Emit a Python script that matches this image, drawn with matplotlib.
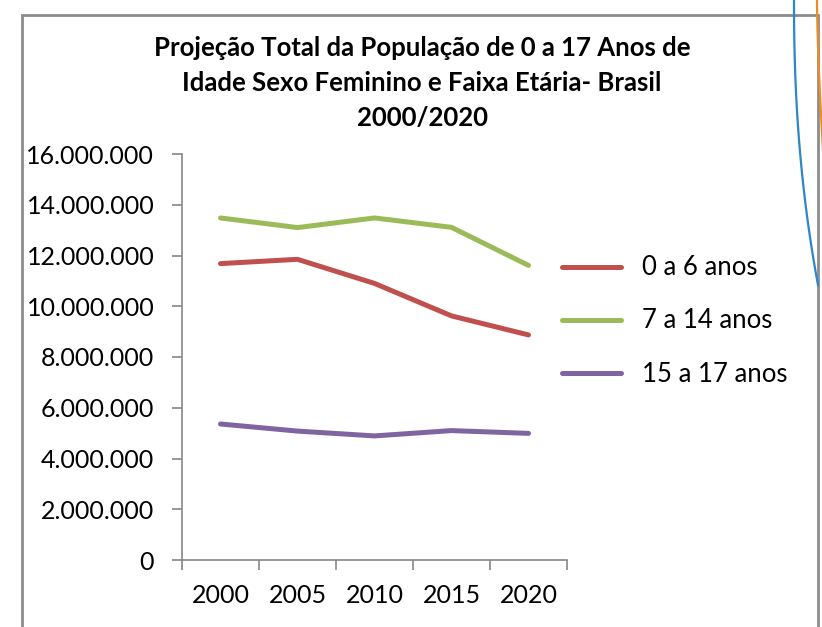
import numpy as np
import matplotlib.pyplot as plt
from matplotlib.ticker import FuncFormatter
from matplotlib.patches import Rectangle

plt.rcParams['font.family'] = ['Lato', 'DejaVu Sans']

# Data
years = ["2000", "2005", "2010", "2015", "2020"]
idade_0_6 = [11680000, 11850000, 10900000, 9620000, 8870000]
idade_7_14 = [13480000, 13100000, 13480000, 13110000, 11610000]
idade_15_17 = [5360000, 5080000, 4890000, 5100000, 4990000]
labels = ["0 a 6 anos", "7 a 14 anos", "15 a 17 anos"]
colors = ["#C0504D", "#9BBB59", "#8064A2"]

title = ("Projeção Total da População de 0 a 17 Anos de\n"
         "Idade Sexo Feminino e Faixa Etária- Brasil\n2000/2020")

fig = plt.figure(figsize=(8.22, 6.27), dpi=100)
ax = fig.add_axes([182/822, 67/627, 385/822, 406/627])

x = np.arange(len(years))
for vals, lab, col in zip([idade_0_6, idade_7_14, idade_15_17], labels, colors):
    ax.plot(x, vals, color=col, linewidth=3.6, solid_capstyle='round', label=lab)

ax.set_xlim(-0.5, len(years) - 0.5)
ax.set_ylim(0, 16000000)
ax.set_yticks(np.arange(0, 16000001, 2000000))
ax.yaxis.set_major_formatter(FuncFormatter(lambda v, p: f"{int(v):,}".replace(",", ".")))
ax.set_xticks(x)
ax.set_xticklabels(years)
ax.set_xticks(np.arange(-0.5, len(years), 1), minor=True)
ax.tick_params(axis='x', which='major', length=0, pad=17, labelsize=18)
ax.tick_params(axis='x', which='minor', length=7, color='#868686', width=1.2)
ax.tick_params(axis='y', length=7, color='#868686', width=1.2, labelsize=18, pad=13)

for side in ['top', 'right']:
    ax.spines[side].set_visible(False)
for side in ['left', 'bottom']:
    ax.spines[side].set_color('#868686')
    ax.spines[side].set_linewidth(1.2)

fig.text(422/822, 1 - 83/627, title, ha='center', va='center',
         fontsize=18.5, fontweight='bold', linespacing=1.55)

ax.legend(loc='center left', bbox_to_anchor=(562/822, 1 - 321/627),
          bbox_transform=fig.transFigure, frameon=False, fontsize=18.5,
          borderpad=0, borderaxespad=0,
          handlelength=2.3, handletextpad=0.82, labelspacing=1.09)

# chart border
fig.patches.append(Rectangle((22/822, -0.05), 796/822, 1.05 - 15/627,
                             transform=fig.transFigure, fill=False,
                             edgecolor='#8c8c8c', linewidth=2))

# decorative curves at the right edge of the slide
t = np.linspace(0, 1, 60)
fig.add_artist(plt.Line2D((794 + 24 * t**2.2) / 822, 1 - (285 * t) / 627,
                          color='#2E86C8', linewidth=1.6))
fig.add_artist(plt.Line2D((817 + 6 * t**1.5) / 822, 1 - (150 * t) / 627,
                          color='#F08A24', linewidth=1.6))

fig.savefig("out.png", dpi=100)
